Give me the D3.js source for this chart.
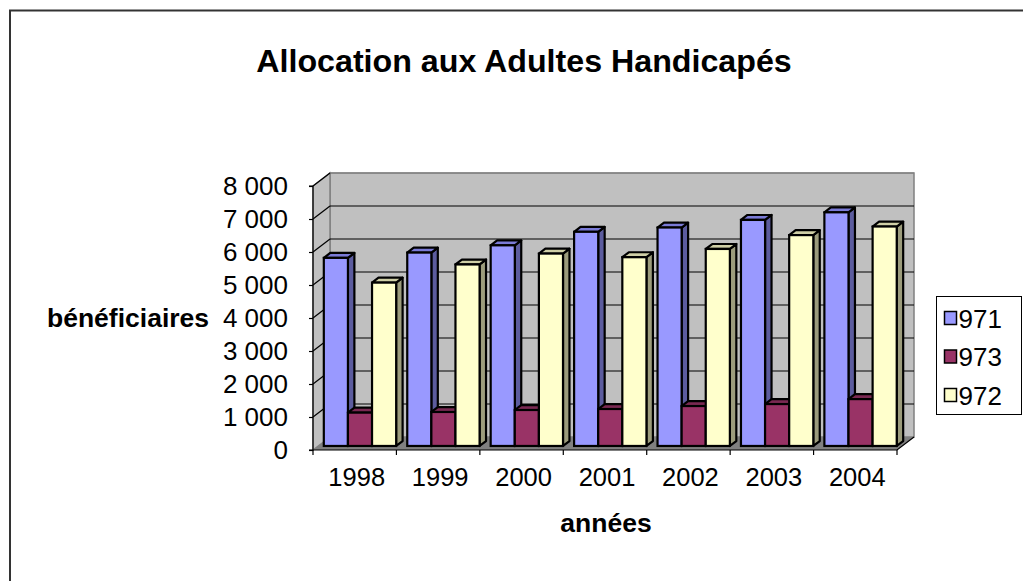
<!DOCTYPE html>
<html>
<head>
<meta charset="utf-8">
<script src="https://cdn.jsdelivr.net/npm/d3@7"></script>
<style>
  html, body { margin: 0; padding: 0; background: #fff; }
  svg { display: block; font-family: "Liberation Sans", Arial, sans-serif; }
</style>
</head>
<body>
<svg id="chart" width="1023" height="581"></svg>
<script>
// Bénéficiaires de l'AAH par département d'outre-mer
const years = ["1998", "1999", "2000", "2001", "2002", "2003", "2004"];
const seriesNames = ["971", "973", "972"];
const values971 = [5700, 5860, 6080, 6490, 6620, 6850, 7080];
const values973 = [1010, 1030, 1090, 1120, 1210, 1270, 1420];
const values972 = [4950, 5500, 5830, 5720, 5970, 6390, 6650];
const yTicks = [0, 1000, 2000, 3000, 4000, 5000, 6000, 7000, 8000];

const seriesValues = [values971, values973, values972];
const faceColors = [
  { front: "#9999FF", side: "#5C5C9E", top: "#7A7AD6" },
  { front: "#993366", side: "#5E1F3F", top: "#7A2952" },
  { front: "#FFFFCC", side: "#9C9C7C", top: "#CFCFA6" }
];

const svg = d3.select("#chart");
const fr = d3.formatLocale({ decimal: ",", thousands: "\u00a0", grouping: [3], currency: ["", " €"] });
const fmt = fr.format(",d");

// Projection: front plane + oblique depth
const plotLeft = 313, plotRight = 897, plotBottom = 450, plotTop = 186;
const depthX = 17, depthY = -13;

const x = d3.scaleBand().domain(years).range([plotLeft, plotRight]).padding(0);
const y = d3.scaleLinear().domain([0, 8000]).range([plotBottom, plotTop]);
const xs = d3.scaleBand().domain(seriesNames).range([0, x.bandwidth()])
  .paddingInner(0).paddingOuter(0.23);

// Outer frame
svg.append("path")
  .attr("d", "M10,590 L10,10.5 L1030,10.5")
  .attr("fill", "none").attr("stroke", "#333").attr("stroke-width", 2);

// Title
svg.append("text")
  .attr("x", 524).attr("y", 72)
  .attr("text-anchor", "middle")
  .attr("font-size", 32.2).attr("font-weight", "bold")
  .text("Allocation aux Adultes Handicapés");

const g = svg.append("g");

// Back wall
g.append("rect")
  .attr("x", plotLeft + depthX).attr("y", plotTop + depthY)
  .attr("width", plotRight - plotLeft).attr("height", plotBottom - plotTop)
  .attr("fill", "#C0C0C0").attr("stroke", "#808080").attr("stroke-width", 1.5);

// Side wall
g.append("polygon")
  .attr("points", [[plotLeft, plotBottom], [plotLeft, plotTop], [plotLeft + depthX, plotTop + depthY], [plotLeft + depthX, plotBottom + depthY]].join(" "))
  .attr("fill", "#C0C0C0").attr("stroke", "#808080").attr("stroke-width", 1.5);

// Floor
g.append("polygon")
  .attr("points", [[plotLeft, plotBottom], [plotRight, plotBottom], [plotRight + depthX, plotBottom + depthY], [plotLeft + depthX, plotBottom + depthY]].join(" "))
  .attr("fill", "#808080");

// Gridlines on back and side walls
yTicks.filter(t => t > 0).forEach(t => {
  const yy = y(t);
  g.append("line")
    .attr("x1", plotLeft + depthX).attr("x2", plotRight + depthX)
    .attr("y1", yy + depthY).attr("y2", yy + depthY)
    .attr("stroke", t === 8000 ? "#808080" : "#000").attr("stroke-width", 1.2);
  g.append("line")
    .attr("x1", plotLeft).attr("y1", yy)
    .attr("x2", plotLeft + depthX).attr("y2", yy + depthY)
    .attr("stroke", "#000").attr("stroke-width", 1.2);
});

// Bars
const f0 = 0.31, f1 = 0.69;
years.forEach((yr, i) => {
  seriesNames.forEach((s, k) => {
    const v = seriesValues[k][i];
    const x0 = x(yr) + xs(s) + depthX * f0;
    const w = xs.bandwidth();
    const yb = y(0) + depthY * f0;
    const yt = y(v) + depthY * f0;
    const ddx = depthX * (f1 - f0), ddy = depthY * (f1 - f0);
    const c = faceColors[k];
    const bar = g.append("g");
    bar.append("polygon")
      .attr("points", [[x0 + w, yb], [x0 + w, yt], [x0 + w + ddx, yt + ddy], [x0 + w + ddx, yb + ddy]].join(" "))
      .attr("fill", c.side).attr("stroke", "#000").attr("stroke-width", 2.2).attr("stroke-linejoin", "round");
    bar.append("polygon")
      .attr("points", [[x0, yt], [x0 + w, yt], [x0 + w + ddx, yt + ddy], [x0 + ddx, yt + ddy]].join(" "))
      .attr("fill", c.top).attr("stroke", "#000").attr("stroke-width", 2.2).attr("stroke-linejoin", "round");
    bar.append("rect")
      .attr("x", x0).attr("y", yt).attr("width", w).attr("height", yb - yt)
      .attr("fill", c.front).attr("stroke", "#000").attr("stroke-width", 2.2);
  });
});

// Y axis (front edge)
const yAxis = d3.axisLeft(y).tickValues(yTicks).tickSize(4).tickPadding(21).tickFormat(d => fmt(d));
const ya = svg.append("g").attr("transform", `translate(${plotLeft},0)`).call(yAxis);
ya.select(".domain").attr("stroke", "#000").attr("stroke-width", 1.2).attr("d", `M-4,${plotTop}H0V${plotBottom}H-4`);
ya.selectAll(".tick line").attr("stroke", "#000").attr("stroke-width", 1.2);
ya.selectAll(".tick text")
  .attr("font-size", 26).attr("fill", "#000")
  .attr("font-family", "'Liberation Sans', Arial, sans-serif");

// X axis (front edge)
const xa = svg.append("g");
xa.append("path")
  .attr("d", `M${plotLeft},${plotBottom}H${plotRight}L${plotRight + depthX},${plotBottom + depthY}`)
  .attr("fill", "none").attr("stroke", "#000").attr("stroke-width", 1.2);
const bounds = years.map(yr => x(yr)).concat([plotRight]);
xa.selectAll("line.tk").data(bounds).join("line")
  .attr("class", "tk")
  .attr("x1", d => d).attr("x2", d => d)
  .attr("y1", plotBottom).attr("y2", plotBottom + 5)
  .attr("stroke", "#000").attr("stroke-width", 1.2);
xa.selectAll("text").data(years).join("text")
  .attr("x", d => x(d) + x.bandwidth() / 2 + 2)
  .attr("y", 486)
  .attr("text-anchor", "middle")
  .attr("font-size", 25.5)
  .text(d => d);

// Axis titles
svg.append("text")
  .attr("x", 47).attr("y", 327)
  .attr("font-size", 26.5).attr("font-weight", "bold")
  .text("bénéficiaires");
svg.append("text")
  .attr("x", 606).attr("y", 532)
  .attr("text-anchor", "middle")
  .attr("font-size", 26.5).attr("font-weight", "bold")
  .text("années");

// Legend
const lg = svg.append("g");
lg.append("rect")
  .attr("x", 936.5).attr("y", 296.5).attr("width", 85).attr("height", 118)
  .attr("fill", "#fff").attr("stroke", "#000").attr("stroke-width", 1);
const rowY = [318, 356.5, 395];
seriesNames.forEach((s, k) => {
  lg.append("rect")
    .attr("x", 944.5).attr("y", rowY[k] - 6.5).attr("width", 12).attr("height", 13)
    .attr("fill", faceColors[k].front).attr("stroke", "#000").attr("stroke-width", 1.5);
  lg.append("text")
    .attr("x", 958.5).attr("y", rowY[k] + 9.5)
    .attr("font-size", 26)
    .text(s);
});
</script>
</body>
</html>
